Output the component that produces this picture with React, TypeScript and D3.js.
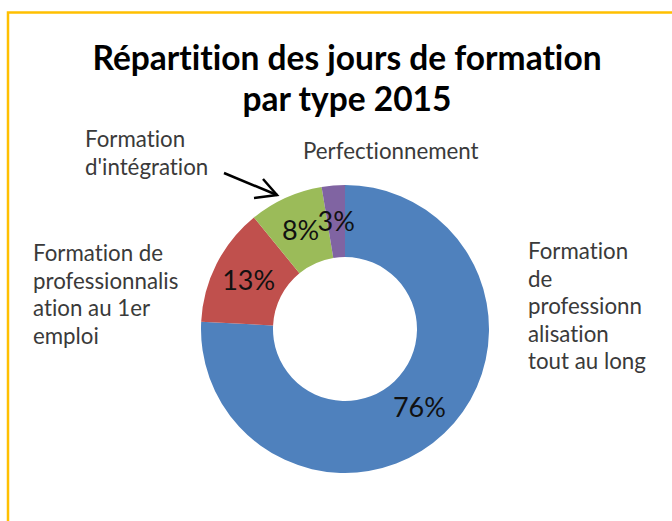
import React from 'react';
import * as d3 from 'd3';

// données du graphique
const categories = [
  'Formation de professionnalisation tout au long',
  'Formation de professionnalisation au 1er emploi',
  "Formation d'intégration",
  'Perfectionnement',
];
const values = [75.8, 13.3, 8.3, 2.6];
const pctLabels = ['76%', '13%', '8%', '3%'];
const colors = ['#4F81BD', '#C0504D', '#9BBB59', '#8064A2'];

// étiquettes coupées comme dans l'original
const labelLines = [
  ['Formation', 'de', 'professionn', 'alisation', 'tout au long'],
  ['Formation de', 'professionnalis', 'ation au 1er', 'emploi'],
  ['Formation', "d'intégration"],
  ['Perfectionnement'],
];
const labelPos = [
  { x: 528, y: 259 },
  { x: 33, y: 261 },
  { x: 85, y: 147 },
  { x: 303, y: 159 },
];

const titleLines = ['Répartition des jours de formation', 'par type 2015'];

const width = 672;
const height = 521;
const cx = 345;
const cy = 329;
const outerR = 144;
const innerR = 72;
const font = 'Lato, Carlito, "Open Sans", sans-serif';
const noLig = { fontVariantLigatures: 'none' as const };

export default function App() {
  const pie = d3.pie<number>().sort(null).value((d) => d);
  const arcs = pie(values);
  const arc = d3.arc<d3.PieArcDatum<number>>().innerRadius(innerR).outerRadius(outerR);

  return (
    <div style={{ position: 'absolute', left: 0, top: 0 }}>
      <svg width={width} height={height} style={{ display: 'block', background: '#fff' }}>
        <rect x={8} y={12.5} width={width + 20} height={height + 20} fill="none" stroke="#FFC000" strokeWidth={2.5} />

        {titleLines.map((t, i) => (
          <text key={t} x={347} y={70 + i * 41} textAnchor="middle" fontFamily={font} fontWeight="bold" fontSize={33.5} fill="#000" style={noLig}>
            {t}
          </text>
        ))}

        <g transform={`translate(${cx},${cy})`}>
          {arcs.map((a, i) => (
            <path key={categories[i]} d={arc(a) || ''} fill={colors[i]} />
          ))}
          {arcs.map((a, i) => {
            const [x, y] = arc.centroid(a);
            return (
              <text key={'p' + i} x={x} y={y} dy="0.35em" textAnchor="middle" fontFamily={font} fontSize={27} fill="#111">
                {pctLabels[i]}
              </text>
            );
          })}
        </g>

        {labelLines.map((lines, i) => (
          <text key={'l' + i} fontFamily={font} fontSize={22.3} fill="#3a3a3a" style={noLig}>
            {lines.map((ln, j) => (
              <tspan key={j} x={labelPos[i].x} y={labelPos[i].y + j * 27.5}>
                {ln}
              </tspan>
            ))}
          </text>
        ))}

        {/* flèche vers la part intégration */}
        <path d="M224,173 L277,195" stroke="#000" strokeWidth={2.5} fill="none" />
        <path d="M263,179 L277,195 L254,198" stroke="#000" strokeWidth={2.5} fill="none" strokeLinejoin="miter" />
      </svg>
    </div>
  );
}
